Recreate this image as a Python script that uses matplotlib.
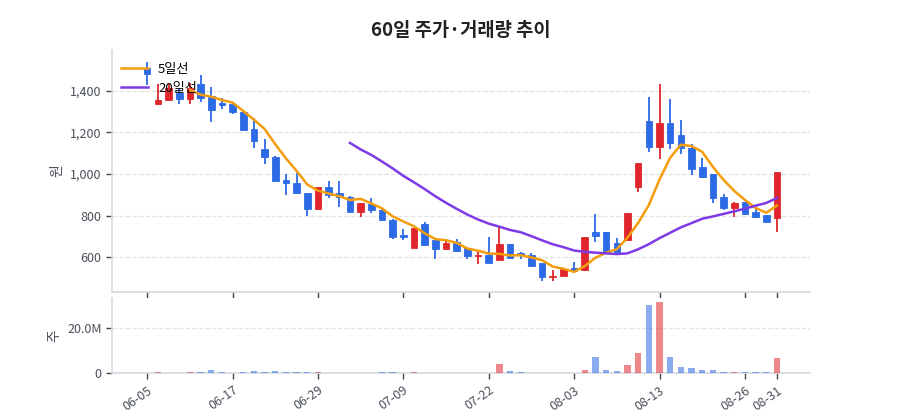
import numpy as np
import pandas as pd
import matplotlib
matplotlib.use("Agg")
from matplotlib import pyplot as plt
from matplotlib.ticker import FuncFormatter

plt.rcParams['font.family'] = ['Noto Sans CJK KR', 'DejaVu Sans']

dates = ['06-05', '06-07', '06-08', '06-09', '06-11', '06-12', '06-13', '06-15', '06-17',
         '06-18', '06-20', '06-21', '06-22', '06-24', '06-25', '06-27', '06-29',
         '06-30', '07-01', '07-02', '07-04', '07-05', '07-06', '07-08', '07-09',
         '07-11', '07-12', '07-14', '07-15', '07-17', '07-18', '07-20', '07-22',
         '07-23', '07-25', '07-26', '07-28', '07-29', '07-31', '08-01', '08-03',
         '08-04', '08-05', '08-06', '08-08', '08-09', '08-10', '08-12', '08-13',
         '08-15', '08-16', '08-18', '08-19', '08-21', '08-22', '08-24', '08-26',
         '08-28', '08-30', '08-31']

opens = [1507, 1336, 1355, 1390, 1360, 1432, 1376, 1339, 1334, 1299,
         1216, 1120, 1083, 970, 958, 907, 830, 936, 907, 891,
         818, 856, 827, 779, 707, 646, 758, 683, 642, 674,
         646, 606, 611, 587, 662, 619, 611, 571, 504, 510,
         547, 539, 720, 720, 667, 683, 936, 1256, 1128, 1246,
         1187, 1126, 1032, 998, 891, 835, 864, 819, 803, 787]
highs = [1539, 1430, 1430, 1411, 1435, 1475, 1419, 1366, 1347, 1307,
         1270, 1168, 1085, 998, 1003, 907, 936, 966, 968, 894,
         859, 883, 830, 782, 734, 742, 768, 683, 690, 690,
         651, 635, 696, 747, 662, 624, 619, 571, 539, 545,
         579, 699, 808, 720, 691, 811, 1054, 1368, 1432, 1360,
         1259, 1142, 1078, 998, 902, 867, 867, 835, 803, 1011]
lows = [1427, 1331, 1350, 1334, 1334, 1347, 1251, 1312, 1286, 1206,
        1126, 1046, 966, 899, 907, 798, 830, 886, 840, 818,
        792, 814, 776, 686, 683, 646, 658, 590, 638, 626,
        590, 568, 571, 587, 590, 590, 552, 486, 488, 510,
        533, 536, 675, 616, 619, 683, 912, 1104, 1070, 1118,
        1096, 995, 979, 859, 827, 795, 803, 787, 771, 720]
closes = [1480, 1355, 1411, 1360, 1411, 1366, 1307, 1331, 1296, 1211,
          1158, 1083, 966, 957, 910, 830, 936, 899, 891, 818,
          859, 827, 779, 699, 696, 742, 661, 640, 670, 632,
          606, 611, 571, 662, 595, 611, 558, 504, 510, 542,
          536, 699, 702, 632, 627, 811, 1054, 1128, 1246, 1150,
          1123, 1024, 987, 886, 838, 859, 806, 795, 771, 1011]
# volume in millions
volumes = [0.1, 0.4, 0.15, 0.15, 0.6, 0.6, 1.3, 0.6, 0.15, 0.6,
           0.9, 0.6, 1.0, 0.4, 0.6, 0.6, 0.4, 0.15, 0.15, 0.15,
           0.15, 0.05, 0.4, 0.4, 0.15, 0.4, 0.15, 0.15, 0.15, 0.1,
           0.1, 0.1, 0.3, 3.9, 0.9, 0.6, 0.3, 0.3, 0.1, 0.3,
           0.1, 1.5, 7.4, 1.5, 0.9, 3.5, 8.9, 30.2, 31.4, 7.0,
           2.6, 2.2, 1.5, 1.3, 0.6, 0.6, 0.6, 0.4, 0.4, 6.6]
tick_idx = [0, 8, 16, 24, 32, 40, 48, 56, 59]

RED = '#e0262c'
BLUE = '#2c6be5'
ORANGE = '#f59c0c'
PURPLE = '#7d3ae6'
GRID = '#e3e3e3'
SPINE = '#d5d9e0'
TXT = '#4a4f5a'

df = pd.DataFrame({'o': opens, 'h': highs, 'l': lows, 'c': closes, 'v': volumes})
x = np.arange(len(df))
up = df['c'] >= df['o']
colors = np.where(up, RED, BLUE)
ma5 = df['c'].rolling(5).mean()
ma20 = df['c'].rolling(20).mean()

fig = plt.figure(figsize=(9, 4.2), dpi=100)
ax = fig.add_axes([0.1244, 0.3055, 0.7756, 0.5755])
axv = fig.add_axes([0.1244, 0.111, 0.7756, 0.179])

# candles
ax.vlines(x, df['l'], df['h'], colors=colors, linewidth=1.3, zorder=2)
body_bot = np.minimum(df['o'], df['c'])
body_h = np.maximum(np.abs(df['c'] - df['o']), 4)
ax.bar(x, body_h, bottom=body_bot, width=0.62, color=colors, edgecolor=colors,
       linewidth=0.6, zorder=3)
ax.plot(x, ma5, color=ORANGE, linewidth=1.8, label='5일선', zorder=4)
ax.plot(x, ma20, color=PURPLE, linewidth=1.8, label='20일선', zorder=4)

ax.set_xlim(-3.3, 62.1)
ax.set_ylim(435, 1595)
ax.set_yticks([600, 800, 1000, 1200, 1400])
ax.yaxis.set_major_formatter(FuncFormatter(lambda v, p: f'{int(v):,}'))
ax.set_xticks(tick_idx)
ax.set_xticklabels([])
ax.set_ylabel('원', color=TXT, fontsize=10)
ax.set_title('60일 주가·거래량 추이', fontsize=13.5, fontweight='bold', color='#222222', pad=10)
ax.legend(loc='upper left', bbox_to_anchor=(0, 0.985), frameon=False, fontsize=9.5,
          handlelength=2.0, borderaxespad=0.3, labelspacing=0.45)

# volume
axv.bar(x, df['v'] * 1e6, width=0.6, color=colors, alpha=0.55, zorder=3)
axv.set_xlim(-3.3, 62.1)
axv.set_ylim(0, 33e6)
axv.set_yticks([0, 20e6])
axv.yaxis.set_major_formatter(FuncFormatter(lambda v, p: '0' if v == 0 else f'{v/1e6:.1f}M'))
axv.set_xticks(tick_idx)
axv.set_xticklabels([dates[i] for i in tick_idx], rotation=35, ha='right',
                    rotation_mode='anchor')
axv.set_ylabel('주', color=TXT, fontsize=10)

for a in (ax, axv):
    a.grid(axis='y', color=GRID, linestyle='--', linewidth=0.9, zorder=0)
    a.set_axisbelow(True)
    for s in ('top', 'right'):
        a.spines[s].set_visible(False)
    for s in ('left', 'bottom'):
        a.spines[s].set_color(SPINE)
        a.spines[s].set_linewidth(1.2)
    a.tick_params(axis='both', colors='#444444', labelcolor=TXT, labelsize=9,
                  length=4, width=1)

fig.savefig('out.png', dpi=100)
